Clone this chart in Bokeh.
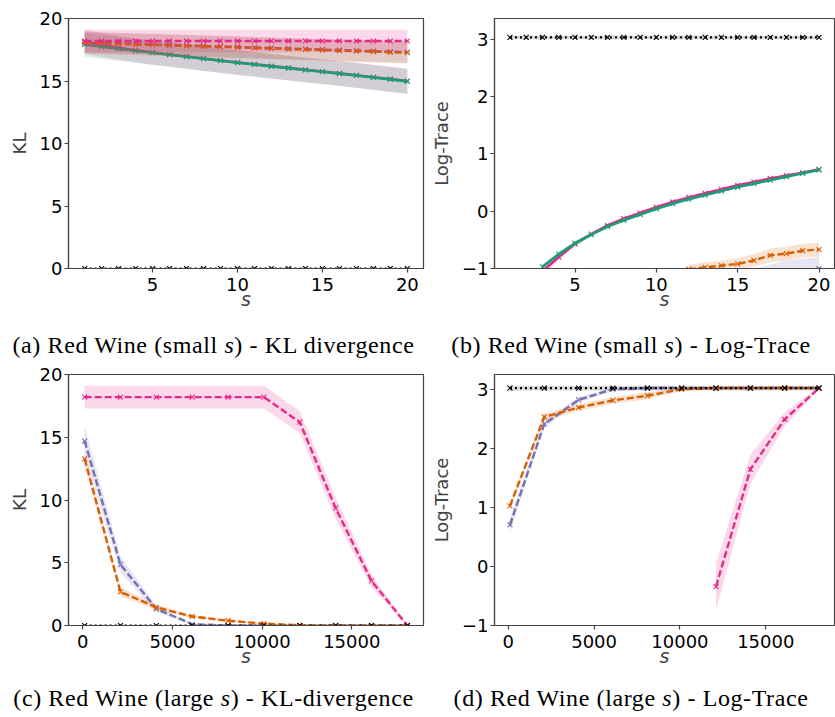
from bokeh.plotting import figure
from bokeh.models import FixedTicker, Div, Range1d
from bokeh.layouts import column, row
from bokeh.embed import file_html
from bokeh.resources import INLINE

# ---------------- data ----------------
x_small = [1, 2, 3, 4, 5, 6, 7, 8, 9, 10, 11, 12, 13, 14, 15, 16, 17, 18, 19, 20]
x_large = [100, 2100, 4100, 6100, 8100, 10100, 12100, 14100, 16100, 18100]

# (a) KL, small s
kl_s_black = [0, 0, 0, 0, 0, 0, 0, 0, 0, 0, 0, 0, 0, 0, 0, 0, 0, 0, 0, 0]
kl_s_pinkdash = [18.2, 18.2, 18.2, 18.2, 18.2, 18.2, 18.2, 18.2, 18.2, 18.2,
                 18.2, 18.2, 18.2, 18.2, 18.2, 18.2, 18.2, 18.2, 18.2, 18.2]
kl_s_pinkdash_sd = [0.9, 0.9, 0.9, 0.9, 0.9, 0.9, 0.9, 0.9, 0.9, 0.9,
                    0.9, 0.9, 0.9, 0.9, 0.9, 0.9, 0.9, 0.9, 0.9, 0.9]
kl_s_purple = [18.10, 18.06, 18.02, 17.98, 17.94, 17.89, 17.85, 17.81, 17.77, 17.73,
               17.68, 17.64, 17.60, 17.56, 17.52, 17.47, 17.43, 17.39, 17.35, 17.31]
kl_s_purple_sd = [0.85, 0.85, 0.85, 0.85, 0.85, 0.85, 0.85, 0.85, 0.85, 0.85,
                  0.85, 0.85, 0.85, 0.85, 0.85, 0.85, 0.85, 0.85, 0.85, 0.85]
kl_s_orange = [18.06, 18.02, 17.98, 17.94, 17.90, 17.85, 17.81, 17.77, 17.73, 17.69,
               17.64, 17.60, 17.56, 17.52, 17.48, 17.43, 17.39, 17.35, 17.30, 17.26]
kl_s_orange_sd = [0.85, 0.85, 0.85, 0.85, 0.86, 0.86, 0.86, 0.86, 0.86, 0.86,
                  0.86, 0.86, 0.86, 0.86, 0.86, 0.86, 0.86, 0.86, 0.86, 0.86]
kl_s_pinksolid = [18.15, 17.90, 17.65, 17.45, 17.28, 17.12, 16.96, 16.80, 16.64, 16.48,
                  16.34, 16.19, 16.05, 15.90, 15.76, 15.61, 15.46, 15.30, 15.15, 14.99]
kl_s_pinksolid_sd = [0.95, 0.95, 0.95, 0.95, 0.96, 0.96, 0.96, 0.97, 0.97, 0.97,
                     0.98, 0.98, 0.98, 0.99, 0.99, 0.99, 1.0, 1.0, 1.0, 1.0]
kl_s_green = [17.92, 17.75, 17.58, 17.42, 17.26, 17.10, 16.94, 16.78, 16.62, 16.46,
              16.32, 16.17, 16.03, 15.88, 15.74, 15.59, 15.44, 15.28, 15.13, 14.97]
kl_s_green_sd = [0.96, 0.96, 0.96, 0.96, 0.97, 0.97, 0.97, 0.97, 0.98, 0.98,
                 0.98, 0.98, 0.99, 0.99, 0.99, 0.99, 1.0, 1.0, 1.0, 1.0]

# (b) Log-Trace, small s
lt_s_black = [3.03, 3.03, 3.03, 3.03, 3.03, 3.03, 3.03, 3.03, 3.03, 3.03,
              3.03, 3.03, 3.03, 3.03, 3.03, 3.03, 3.03, 3.03, 3.03, 3.03]
lt_s_black_sd = [0.03, 0.03, 0.03, 0.03, 0.03, 0.03, 0.03, 0.03, 0.03, 0.03,
                 0.03, 0.03, 0.03, 0.03, 0.03, 0.03, 0.03, 0.03, 0.03, 0.03]
x_lt_s_solid = [3, 4, 5, 6, 7, 8, 9, 10, 11, 12, 13, 14, 15, 16, 17, 18, 19, 20]
lt_s_pinksolid = [-1.05, -0.80, -0.57, -0.40, -0.25, -0.13, -0.03, 0.07, 0.16, 0.24,
                  0.31, 0.38, 0.45, 0.51, 0.57, 0.62, 0.67, 0.73]
lt_s_pinksolid_sd = [0.05, 0.04, 0.04, 0.03, 0.03, 0.03, 0.03, 0.03, 0.03, 0.03,
                     0.02, 0.02, 0.02, 0.02, 0.02, 0.02, 0.02, 0.02]
lt_s_green = [-0.97, -0.75, -0.56, -0.41, -0.27, -0.16, -0.06, 0.04, 0.13, 0.21,
              0.28, 0.35, 0.42, 0.48, 0.54, 0.60, 0.66, 0.72]
lt_s_green_sd = [0.05, 0.04, 0.04, 0.03, 0.03, 0.03, 0.03, 0.03, 0.03, 0.03,
                 0.02, 0.02, 0.02, 0.02, 0.02, 0.02, 0.02, 0.02]
x_lt_s_orange = [12, 13, 14, 15, 16, 17, 18, 19, 20]
lt_s_orange = [-1.01, -0.98, -0.95, -0.92, -0.86, -0.77, -0.74, -0.69, -0.67]
lt_s_orange_sd = [0.08, 0.09, 0.09, 0.10, 0.11, 0.12, 0.12, 0.12, 0.12]
x_lt_s_purple = [16, 17, 18, 19, 20]
lt_s_purple = [-1.20, -1.15, -1.10, -1.05, -1.00]
lt_s_purple_sd = [0.20, 0.22, 0.24, 0.22, 0.20]

# (c) KL, large s
kl_l_black = [0, 0, 0, 0, 0, 0, 0, 0, 0, 0]
kl_l_pink = [18.2, 18.2, 18.2, 18.2, 18.2, 18.2, 16.2, 9.35, 3.55, 0.0]
kl_l_pink_sd = [0.9, 0.9, 0.9, 0.9, 0.9, 0.9, 0.88, 0.85, 0.5, 0.05]
kl_l_purple = [14.7, 4.85, 1.33, 0.10, 0.0, 0.0, 0.0, 0.0, 0.0, 0.0]
kl_l_purple_sd = [1.15, 0.65, 0.25, 0.05, 0.0, 0.0, 0.0, 0.0, 0.0, 0.0]
kl_l_orange = [13.27, 2.68, 1.45, 0.72, 0.38, 0.15, 0.02, 0.0, 0.0, 0.0]
kl_l_orange_sd = [0.5, 0.35, 0.2, 0.12, 0.1, 0.05, 0.02, 0.0, 0.0, 0.0]

# (d) Log-Trace, large s
lt_l_black = [3.03, 3.03, 3.03, 3.03, 3.03, 3.03, 3.03, 3.03, 3.03, 3.03]
lt_l_black_sd = [0.04, 0.04, 0.04, 0.04, 0.04, 0.04, 0.04, 0.04, 0.04, 0.04]
lt_l_purple = [0.71, 2.42, 2.83, 3.01, 3.03, 3.03, 3.03, 3.03, 3.03, 3.03]
lt_l_purple_sd = [0.12, 0.06, 0.05, 0.03, 0.03, 0.02, 0.02, 0.02, 0.02, 0.02]
lt_l_orange = [1.03, 2.54, 2.70, 2.82, 2.90, 3.01, 3.03, 3.03, 3.03, 3.03]
lt_l_orange_sd = [0.05, 0.06, 0.06, 0.06, 0.06, 0.03, 0.02, 0.02, 0.02, 0.02]
x_lt_l_pink = [12100, 14100, 16100, 18100]
lt_l_pink = [-0.34, 1.65, 2.50, 3.03]
lt_l_pink_sd = [0.40, 0.25, 0.12, 0.02]

ticks_small_x = [5, 10, 15, 20]
ticks_large_x = [0, 5000, 10000, 15000]
ticks_kl = [0, 5, 10, 15, 20]
ticks_lt = [-1, 0, 1, 2, 3]

captions = [
    "(a) Red Wine (small <i>s</i>) - KL divergence",
    "(b) Red Wine (small <i>s</i>) - Log-Trace",
    "(c) Red Wine (large <i>s</i>) - KL-divergence",
    "(d) Red Wine (large <i>s</i>) - Log-Trace",
]

# ---------------- styling ----------------
PINK = "#e7298a"
PURPLE = "#7570b3"
ORANGE = "#d95f02"
GREEN = "#1b9e77"
BLACK = "#000000"
AX = "#444444"
FONT = "DejaVu Sans"
FS = "18px"
DASH = "7 3"
DOT = "2 3"


def make_fig(w, h, bl, br, bt, bb, xr, yr, xticks, yticks, ylabel):
    p = figure(width=w, height=h, output_backend="svg", toolbar_location=None,
               x_range=Range1d(*xr), y_range=Range1d(*yr),
               min_border_left=bl, min_border_right=br,
               min_border_top=bt, min_border_bottom=bb)
    p.xgrid.visible = False
    p.ygrid.visible = False
    p.outline_line_color = AX
    p.outline_line_width = 1.2
    p.background_fill_color = "white"
    p.border_fill_color = "white"
    for ax in (p.xaxis[0], p.yaxis[0]):
        ax.axis_line_color = AX
        ax.axis_line_width = 1.2
        ax.major_tick_line_color = AX
        ax.major_tick_line_width = 1.2
        ax.major_tick_out = 4
        ax.major_tick_in = 0
        ax.minor_tick_line_color = None
        ax.major_label_text_font = FONT
        ax.major_label_text_font_size = FS
        ax.major_label_text_color = "black"
        ax.axis_label_text_font = FONT
        ax.axis_label_text_font_size = FS
        ax.axis_label_text_font_style = "normal"
    p.xaxis.ticker = FixedTicker(ticks=xticks)
    p.yaxis.ticker = FixedTicker(ticks=yticks)
    p.xaxis.major_label_overrides = {t: str(t) for t in xticks}
    p.yaxis.major_label_overrides = {t: (str(t).replace("-", "\u2212")) for t in yticks}
    p.xaxis.axis_label = "s"
    p.xaxis.axis_label_text_font_style = "italic"
    p.xaxis.axis_label_text_font_size = "19px"
    p.xaxis.major_label_standoff = 5
    p.xaxis.axis_label_standoff = -6
    p.yaxis.axis_label = ylabel
    p.yaxis.major_label_standoff = 2
    p.yaxis.axis_label_standoff = 7
    return p


def series(p, x, y, sd, color, dash, lw=2.0, band_alpha=0.18):
    if sd is not None:
        lo = [a - b for a, b in zip(y, sd)]
        hi = [a + b for a, b in zip(y, sd)]
        p.varea(x=x, y1=lo, y2=hi, fill_color=color, fill_alpha=band_alpha)
    p.line(x, y, line_color=color, line_width=lw, line_dash=dash)
    p.scatter(x, y, marker="x", size=7, line_color=color, line_width=1.1)


# (a)
pa = make_fig(427, 313, 68, 4, 18, 45, (0.05, 20.95), (0, 20), ticks_small_x, ticks_kl, "KL")
series(pa, x_small, kl_s_pinksolid, kl_s_pinksolid_sd, PINK, "solid", 2.6)
series(pa, x_small, kl_s_green, kl_s_green_sd, GREEN, "solid", 2.6)
series(pa, x_small, kl_s_purple, kl_s_purple_sd, PURPLE, DASH, 2.4)
series(pa, x_small, kl_s_orange, kl_s_orange_sd, ORANGE, DASH, 2.4)
series(pa, x_small, kl_s_pinkdash, kl_s_pinkdash_sd, PINK, DASH, 2.4)
series(pa, x_small, kl_s_black, None, BLACK, DOT, 1.8)

# (b)
pb = make_fig(408, 313, 60, 1, 11, 45, (0.05, 20.95), (-1, 3.36), ticks_small_x, ticks_lt, "Log-Trace")
series(pb, x_lt_s_purple, lt_s_purple, lt_s_purple_sd, PURPLE, DASH, 2.4)
series(pb, x_lt_s_orange, lt_s_orange, lt_s_orange_sd, ORANGE, DASH, 2.4)
series(pb, x_lt_s_solid, lt_s_pinksolid, lt_s_pinksolid_sd, PINK, "solid", 2.6)
series(pb, x_lt_s_solid, lt_s_green, lt_s_green_sd, GREEN, "solid", 2.6)
series(pb, x_small, lt_s_black, lt_s_black_sd, BLACK, DOT, 2.2, 0.15)

# (c)
pc = make_fig(427, 310, 68, 4, 14, 45, (-800, 19000), (0, 20), ticks_large_x, ticks_kl, "KL")
series(pc, x_large, kl_l_purple, kl_l_purple_sd, PURPLE, DASH, 2.4)
series(pc, x_large, kl_l_orange, kl_l_orange_sd, ORANGE, DASH, 2.4)
series(pc, x_large, kl_l_pink, kl_l_pink_sd, PINK, DASH, 2.4)
series(pc, x_large, kl_l_black, None, BLACK, DOT, 2.2)

# (d)
pd = make_fig(408, 310, 60, 1, 8, 45, (-800, 19000), (-1, 3.26), ticks_large_x, ticks_lt, "Log-Trace")
series(pd, x_large, lt_l_purple, lt_l_purple_sd, PURPLE, DASH, 2.4)
series(pd, x_large, lt_l_orange, lt_l_orange_sd, ORANGE, DASH, 2.4)
series(pd, x_lt_l_pink, lt_l_pink, lt_l_pink_sd, PINK, DASH, 2.4)
series(pd, x_large, lt_l_black, lt_l_black_sd, BLACK, DOT, 2.2, 0.15)


def caption(txt, w, h, pad):
    html = ('<div style="width:%dpx;padding-top:%dpx;text-align:center;'
            'font-family:\'Liberation Serif\', serif;font-size:24px;line-height:26px;'
            'letter-spacing:0.6px;color:#000;white-space:nowrap;">%s</div>' % (w, pad, txt))
    return Div(text=html, width=w, height=h, margin=(0, 0, 0, 0))


layout = column(
    row(pa, pb, spacing=0),
    row(caption(captions[0], 427, 47, 19), caption(captions[1], 408, 47, 19), spacing=0),
    row(pc, pd, spacing=0),
    row(caption(captions[2], 427, 47, 15), caption(captions[3], 408, 47, 15), spacing=0),
    spacing=0,
)

open("out.html", "w").write(file_html(layout, INLINE))
